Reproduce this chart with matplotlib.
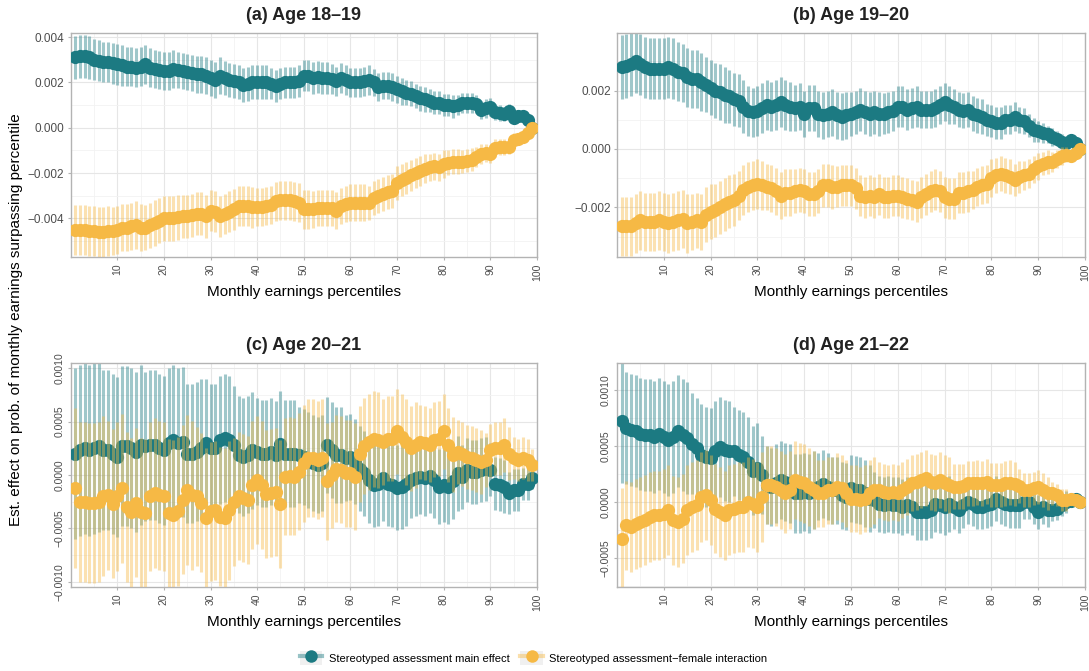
import numpy as np
import matplotlib.pyplot as plt
from matplotlib.lines import Line2D
from matplotlib.patches import Patch
from matplotlib.ticker import MultipleLocator, FuncFormatter

plt.rcParams["font.family"] = ["Liberation Sans", "DejaVu Sans"]

# ---------------------------
# DATA (values and CI half-widths in units of 1e-4)
# ---------------------------
percentiles = np.arange(1, 100)

a_main = [31, 31.5, 31.5, 31, 30, 29.5, 29, 29, 28.5, 28,
          27.5, 27, 27, 26.5, 27, 28, 26.5, 26, 25.5, 25,
          25, 26, 25.5, 25, 24.5, 24, 23.5, 23.5, 23, 22,
          21, 23, 22, 21, 20.5, 20, 19, 19.5, 20, 20,
          20, 20, 19.5, 18.5, 19.5, 20, 20, 20, 20.5, 23,
          23, 22, 22.5, 22, 22, 21.5, 20.5, 22, 21, 20,
          20, 20, 20.5, 21, 20, 18, 18.5, 18.5, 18, 17,
          16, 15.5, 15, 14, 13, 12.5, 12, 11, 11, 10,
          10, 9.5, 10, 11, 11, 11, 10.5, 8, 8.5, 9,
          7, 6.5, 6, 7.5, 4.5, 5, 5, 3.5, 0]
a_main_ci = [9.5, 9.5, 9.5, 9.5, 9, 9, 9, 9, 9, 9,
             9, 8.5, 8.5, 8.5, 8.5, 8.5, 8.5, 8.5, 8.5, 8.5,
             8.5, 8.5, 8, 8, 8, 8, 8, 8, 8, 8,
             8, 8, 7.5, 7.5, 7.5, 7.5, 7.5, 7.5, 7.5, 7.5,
             7.5, 7.5, 7, 7, 7, 7, 7, 7, 7, 7,
             7, 7, 7, 7, 7, 6.5, 6.5, 6.5, 6.5, 6.5,
             6.5, 6.5, 6.5, 6.5, 6, 6, 6, 6, 6, 6,
             6, 5.5, 5.5, 5.5, 5.5, 5.5, 5, 5, 5, 5,
             5, 5, 4.5, 4.5, 4.5, 4.5, 4, 4, 4, 4,
             3.5, 3.5, 3, 3, 2.5, 2.5, 2, 1.5, 0]
a_int = [-45, -45, -45, -45.5, -45.5, -46, -46, -45.5, -45.5, -45,
         -44, -44, -43.5, -43, -44, -44, -43, -42, -41, -40,
         -40, -40, -39.5, -39, -39, -38.5, -38, -38, -39, -36.5,
         -37, -39, -38, -37, -36, -34.5, -34.5, -34.5, -35, -35,
         -35, -34.5, -34, -32.5, -32, -32, -32, -32.5, -33, -36,
         -36, -36, -35.5, -35.5, -35.5, -35.5, -36.5, -34.5, -33.5, -33,
         -33, -33, -33, -33, -31, -30, -29, -28.5, -28, -24.5,
         -23, -22, -21, -20, -19, -18, -17.5, -17, -17.5, -16,
         -15.5, -15, -15, -15, -14.5, -14, -13, -11.5, -11, -11.5,
         -9, -8.5, -8.5, -8.5, -5.5, -5, -4, -2.5, 0]
a_int_ci = [11, 11, 11, 11, 11, 11, 11, 11, 10.5, 10.5,
            10.5, 10.5, 10.5, 10.5, 10.5, 10, 10, 10, 10, 10,
            10, 10, 10, 9.5, 9.5, 9.5, 9.5, 9.5, 9.5, 9,
            9, 9, 9, 9, 9, 9, 9, 9, 9, 8.5,
            8.5, 8.5, 8.5, 8.5, 8.5, 8.5, 8.5, 8.5, 8.5, 8.5,
            8.5, 8, 8, 8, 8, 8, 8, 8, 8, 8,
            8, 8, 8, 7.5, 7.5, 7.5, 7.5, 7.5, 7.5, 7.5,
            7, 7, 7, 6.5, 6.5, 6.5, 6, 6, 6, 6,
            5.5, 5.5, 5.5, 5, 5, 5, 4.5, 4.5, 4, 4,
            4, 3.5, 3.5, 3, 3, 2.5, 2, 1.5, 0]

b_main = [28, 28.5, 29, 30, 29, 28, 27.5, 27.5, 27.5, 27.5,
          28, 27.5, 26.5, 26, 24.5, 24, 24, 23, 22, 21,
          20, 19.5, 18.5, 18, 17, 16.5, 14.5, 13, 12.5, 13,
          14, 15, 14.5, 15, 16, 15, 14.5, 14, 14.5, 12,
          14, 14, 12, 11.5, 12, 12.5, 11.5, 11, 11.5, 12,
          12.5, 13.5, 12.5, 12, 12.5, 12, 12, 12.5, 13, 14.5,
          14.5, 13.5, 14, 14.5, 13.5, 13.5, 13.5, 14, 15, 16,
          15, 14.5, 13.5, 13, 13.5, 12, 11.5, 11, 10, 9.5,
          9, 9, 10, 10, 11, 10, 9.5, 8, 6.5, 6,
          5.5, 5, 4, 3.5, 2.5, 2, 3, 2, 0]
b_main_ci = [11, 11, 11, 11, 10.5, 10.5, 10.5, 10.5, 10.5, 10.5,
             10.5, 10.5, 10, 10, 10, 10, 10, 10, 9.5, 9.5,
             9.5, 9.5, 9.5, 9, 9, 9, 9, 8.5, 8.5, 8.5,
             8.5, 8.5, 8.5, 8.5, 8.5, 8.5, 8.5, 8, 8, 8,
             8, 8, 8, 8, 8, 8, 8, 8, 8, 7.5,
             7.5, 7.5, 7.5, 7.5, 7.5, 7.5, 7, 7, 7, 7,
             7, 7, 7, 7, 6.5, 6.5, 6.5, 6.5, 6.5, 6.5,
             6.5, 6, 6, 6, 6, 6, 6, 6, 5.5, 5.5,
             5.5, 5.5, 5, 5, 5, 4.5, 4.5, 4, 4, 3.5,
             3.5, 3, 3, 2.5, 2.5, 2, 2, 1.5, 0]
b_int = [-26.5, -26.5, -26.5, -25.5, -24.5, -25, -25, -25, -24.5, -25,
         -25.5, -25, -24.5, -24, -25.5, -25, -24.5, -25, -22.5, -21.5,
         -21, -20, -19, -18, -17.5, -16, -14, -13, -12.5, -12,
         -12.5, -13, -13.5, -14.5, -16, -15, -15, -14.5, -14, -14.5,
         -15.5, -15.5, -14.5, -12.5, -12.5, -13, -13, -12.5, -12.5, -12.5,
         -13.5, -16, -16.5, -16, -16.5, -15.5, -16.5, -16.5, -16, -16,
         -16.5, -17, -17.5, -18, -16.5, -15.5, -14.5, -14, -14.5, -16.5,
         -17, -17, -15, -15, -14.5, -14, -13, -12.5, -12, -10,
         -9, -8.5, -9, -9.5, -10.5, -9.5, -9, -8.5, -7, -6,
         -5, -4.5, -4.5, -3.5, -2.5, -2, -2.5, -1.5, 0]
b_int_ci = [10, 10, 10, 10, 10, 10, 10, 10, 10, 10,
            10, 10, 10, 10, 10, 9.5, 9.5, 9.5, 9.5, 9.5,
            9, 9, 9, 9, 9, 8.5, 8.5, 8.5, 8.5, 8.5,
            8.5, 8, 8, 8, 8, 8, 8, 7.5, 7.5, 7.5,
            7.5, 7.5, 7.5, 7.5, 7.5, 7.5, 7, 7, 7, 7,
            7, 7, 7, 7, 7, 7, 7, 7, 7, 7,
            7, 7, 7, 7, 7, 7, 7, 7, 7, 7,
            7, 7, 7, 7, 7, 6.5, 6.5, 6.5, 6.5, 6.5,
            6, 6, 6, 6, 5.5, 5.5, 5, 5, 4.5, 4.5,
            4, 4, 3.5, 3, 3, 2.5, 2, 1.5, 0]

c_main = [2.0, 2.3, 2.5, 2.3, 2.5, 2.7, 2.3, 2.3, 2.0, 1.7,
          2.7, 2.7, 2.5, 2.2, 2.8, 2.7, 2.8, 2.8, 2.5, 2.3,
          3.0, 3.3, 3.0, 3.1, 2.0, 2.0, 2.2, 2.5, 3.0, 2.5,
          2.5, 3.3, 3.5, 3.3, 2.8, 1.9, 1.7, 1.9, 2.3, 2.2,
          2.0, 2.0, 2.2, 1.9, 2.9, 2.0, 2.0, 2.0, 1.9, 1.7,
          1.4, 1.1, 0.9, 1.1, 2.8, 2.3, 1.9, 1.9, 1.6, 1.7,
          1.25, 0.6, 0.15, -0.5, -0.9, -0.8, -0.3, -0.8, -0.9, -1.2,
          -1.1, -0.8, -0.5, -0.3, -0.15, -0.3, -0.1, -0.5, -1.1, -0.9,
          -1.1, -0.6, 0.15, -0.15, 0.5, 0.3, 0.3, 0.5, 0.6, 0.5,
          -0.8, -0.9, -1.1, -1.7, -1.4, -1.4, -0.8, -0.8, -0.3]
c_main_ci = [8, 8, 8, 8, 8, 8, 7.5, 7.5, 7.5, 7.5,
             7.5, 7.5, 7.5, 7.5, 7.5, 7, 7, 7, 7, 7,
             7, 7, 7, 7, 6.5, 6.5, 6.5, 6.5, 6, 6,
             6, 6, 6, 6, 5.5, 5.5, 5.5, 5.5, 5.5, 5,
             5, 5, 5, 5, 5, 5, 5, 5, 4.5, 4.5,
             4.5, 4.5, 4.5, 4.5, 4.5, 4.5, 4.5, 4.5, 4, 4,
             4, 4, 4, 4, 4, 4, 4, 4, 4, 4,
             4, 4, 3.5, 3.5, 3.5, 3.5, 3.5, 3.5, 3.5, 3.5,
             3.5, 3.5, 3.5, 3, 3, 3, 3, 3, 3, 2.5,
             2.5, 2.5, 2.5, 2, 2, 2, 1.5, 1.5, 1]
c_int = [-1.25, -2.5, -2.5, -2.6, -2.6, -2.5, -2.0, -1.9, -2.7, -2.0,
         -1.25, -3.0, -3.5, -2.6, -3.5, -3.6, -2.0, -1.7, -1.9, -2.0,
         -3.6, -3.75, -3.4, -2.3, -1.4, -1.9, -2.0, -2.6, -4.0, -3.4,
         -3.3, -3.9, -4.0, -3.3, -2.5, -2.0, -2.2, -2.3, -0.9, -0.5,
         -0.9, -1.8, -1.7, -1.6, -2.7, -0.15, -0.1, -0.15, 0.3, 1.1,
         1.6, 1.6, 1.4, 1.6, -0.6, 0.0, 0.6, 0.5, 0.15, 0.15,
         -0.15, 2.0, 2.7, 3.1, 3.4, 3.3, 3.1, 3.4, 3.4, 4.1,
         3.6, 3.1, 2.5, 2.8, 3.1, 3.0, 2.8, 3.3, 3.4, 4.1,
         2.8, 1.9, 2.2, 2.0, 1.7, 1.6, 1.4, 1.25, 1.4, 2.3,
         2.5, 2.5, 2.8, 2.0, 1.6, 1.4, 1.6, 1.4, 0.9]
c_int_ci = [7.5, 7.5, 7.5, 7.5, 7.5, 7.5, 7.5, 7, 7, 7,
            7, 7, 7, 7, 7, 7, 7, 7, 7, 7,
            7, 7, 7, 7, 7, 7, 6.5, 6.5, 6.5, 6.5,
            6.5, 6.5, 6.5, 6.5, 6, 6, 6, 6, 6, 6,
            6, 6, 6, 6, 6, 5.5, 5.5, 5.5, 5.5, 5.5,
            5.5, 5.5, 5.5, 5.5, 5.5, 5, 5, 5, 5, 5,
            5, 4.5, 4.5, 4.5, 4.5, 4.5, 4, 4, 4, 4,
            4, 4, 4, 4, 3.5, 3.5, 3.5, 3.5, 3.5, 3.5,
            3.5, 3.5, 3, 3, 3, 3, 3, 3, 2.5, 2.5,
            2.5, 2.5, 2.5, 2.5, 2, 2, 2, 2, 1.5]

d_main = [7.2, 6.6, 6.4, 6.3, 6.1, 6.0, 6.0, 5.8, 6.1, 5.8,
          5.5, 5.8, 6.3, 6.0, 5.7, 5.2, 4.8, 4.2, 4.0, 3.9,
          4.5, 4.9, 4.6, 4.5, 4.5, 4.2, 4.0, 3.6, 2.8, 3.0,
          2.4, 1.5, 1.35, 1.65, 1.95, 1.8, 1.65, 0.75, 0.75, 0.9,
          0.75, 1.05, 1.35, 1.6, 1.35, 1.05, 1.05, 0.6, 0.45, 1.2,
          1.1, 1.05, 0.75, 0.3, 0.15, -0.15, -0.3, -0.15, -0.3, -0.3,
          -0.45, -0.3, -0.45, -0.9, -0.9, -0.9, -0.75, -0.15, -0.3, -0.45,
          -0.15, -0.45, -0.75, -0.3, 0.0, -0.15, -0.45, -0.45, -0.3, -0.15,
          0.3, 0.0, -0.15, -0.3, -0.3, -0.3, 0.0, 0.0, -0.45, -0.9,
          -0.45, -0.75, -0.75, -0.6, -0.3, 0.0, 0.1, 0.3, 0.0]
d_main_ci = [5.5, 5, 5, 5, 5, 5, 5, 5, 5, 5,
             5, 5, 5, 5, 5, 4.5, 4.5, 4.5, 4.5, 4.5,
             4.5, 4.5, 4.5, 4.5, 4, 4, 4, 4, 4, 4,
             3.5, 3.5, 3.5, 3.5, 3.5, 3.5, 3.5, 3.5, 3.5, 3.5,
             3.5, 3.5, 3, 3, 3, 3, 3, 3, 3, 3,
             3, 3, 3, 3, 2.5, 2.5, 2.5, 2.5, 2.5, 2.5,
             2.5, 2.5, 2.5, 2.5, 2.5, 2.5, 2.5, 2.5, 2.5, 2.5,
             2.5, 2, 2, 2, 2, 2, 2, 2, 2, 2,
             2, 2, 2, 2, 2, 2, 1.5, 1.5, 1.5, 1.5,
             1.5, 1.5, 1, 1, 1, 1, 0.5, 0.5, 0]
d_int = [-3.3, -2.1, -2.25, -1.95, -1.8, -1.6, -1.35, -1.2, -1.2, -1.05,
         -0.75, -1.65, -1.8, -1.5, -0.75, -0.45, -0.3, 0.45, 0.6, 0.15,
         -0.6, -0.9, -1.2, -0.75, -0.6, -0.45, -0.45, 0.0, -0.15, -0.45,
         0.45, 1.5, 1.5, 1.35, 1.05, 0.75, 1.05, 1.95, 1.8, 1.65,
         1.35, 1.05, 0.75, 0.75, 1.05, 1.05, 1.35, 1.2, 0.75, 0.3,
         0.3, 0.15, 0.3, 0.75, 1.05, 1.05, 0.9, 0.75, 0.9, 0.75,
         1.05, 1.35, 1.65, 1.8, 1.95, 2.1, 1.8, 1.65, 1.95, 1.65,
         1.5, 1.35, 1.35, 1.4, 1.65, 1.65, 1.7, 1.65, 1.8, 1.5,
         1.5, 1.5, 1.65, 1.7, 1.6, 1.4, 1.05, 1.05, 1.2, 1.35,
         1.05, 0.75, 0.75, 0.6, 0.15, 0.15, 0.3, 0.15, 0.0]
d_int_ci = [4.5, 4, 4, 4, 4, 4, 4, 4, 4, 4,
            4, 4, 4, 4, 4, 4, 4, 4, 4, 4,
            4, 4, 4, 4, 4, 4, 4, 4, 4, 4,
            4, 3.5, 3.5, 3.5, 3.5, 3.5, 3.5, 3.5, 3.5, 3.5,
            3.5, 3.5, 3, 3, 3, 3, 3, 3, 3, 3,
            3, 3, 3, 3, 3, 2.5, 2.5, 2.5, 2.5, 2.5,
            2.5, 2.5, 2.5, 2.5, 2.5, 2.5, 2.5, 2.5, 2.5, 2.5,
            2.5, 2, 2, 2, 2, 2, 2, 2, 2, 2,
            2, 2, 2, 2, 2, 1.5, 1.5, 1.5, 1.5, 1.5,
            1.5, 1.5, 1, 1, 1, 1, 0.5, 0.5, 0]

titles = ["(a) Age 18\u201319", "(b) Age 19\u201320", "(c) Age 20\u201321", "(d) Age 21\u201322"]
series_labels = ["Stereotyped assessment main effect",
                 "Stereotyped assessment\u2212female interaction"]

TEAL = "#1c7a82"
ORANGE = "#f6b945"


def fmt(decimals):
    def f(v, pos):
        s = f"{v:.{decimals}f}"
        return s.replace("-", "\u2212")
    return f


def draw_panel(ax, main, main_ci, inter, inter_ci, title, ylim, step, decimals, rotate_y):
    scale = 1e-4
    main = np.array(main) * scale
    main_ci = np.array(main_ci) * scale
    inter = np.array(inter) * scale
    inter_ci = np.array(inter_ci) * scale

    ax.set_axisbelow(True)
    ax.vlines(percentiles, main - main_ci, main + main_ci, color=TEAL,
              alpha=0.42, lw=2.2, zorder=2)
    ax.plot(percentiles, main, "o", color=TEAL, ms=9.5, mew=0, zorder=3)
    ax.vlines(percentiles, inter - inter_ci, inter + inter_ci, color=ORANGE,
              alpha=0.42, lw=2.2, zorder=4)
    ax.plot(percentiles, inter, "o", color=ORANGE, ms=9.5, mew=0, zorder=5)

    ax.set_xlim(0, 100)
    ax.set_ylim(*ylim)
    ax.xaxis.set_major_locator(MultipleLocator(10))
    ax.xaxis.set_minor_locator(MultipleLocator(5))
    ax.set_xticks(np.arange(10, 101, 10))
    ax.yaxis.set_major_locator(MultipleLocator(step))
    ax.yaxis.set_minor_locator(MultipleLocator(step / 2))
    ax.yaxis.set_major_formatter(FuncFormatter(fmt(decimals)))

    ax.grid(True, which="major", color="#e6e6e6", lw=0.8)
    ax.grid(True, which="minor", color="#f2f2f2", lw=0.6)
    for sp in ax.spines.values():
        sp.set_color("#b3b3b3")
        sp.set_linewidth(1.0)
    ax.tick_params(which="major", length=2.5, color="#b3b3b3", labelcolor="#4d4d4d")
    ax.tick_params(which="minor", length=0)
    ax.tick_params(axis="x", labelsize=7.5, labelrotation=90, pad=2)
    ax.tick_params(axis="y", labelsize=8.5, pad=2)
    if rotate_y:
        for lbl in ax.get_yticklabels():
            lbl.set_rotation(90)
            lbl.set_va("center")
        ax.tick_params(axis="y", labelsize=7.5)

    ax.set_title(title, fontsize=13, fontweight="bold", color="#222222", pad=9)
    ax.set_xlabel("Monthly earnings percentiles", fontsize=11)
    ax.xaxis.set_label_coords(0.5, -0.125)


fig = plt.figure(figsize=(10.89, 6.71), dpi=100)
W, H = 1089, 671
pos = [(70.6, 33, 537, 257), (617, 33, 1085, 257),
       (70.6, 363, 537, 587), (617, 363, 1085, 587)]
axes = []
for x0, y0, x1, y1 in pos:
    axes.append(fig.add_axes([x0 / W, 1 - y1 / H, (x1 - x0) / W, (y1 - y0) / H]))

draw_panel(axes[0], a_main, a_main_ci, a_int, a_int_ci, titles[0],
           (-0.0057, 0.00418), 0.002, 3, False)
draw_panel(axes[1], b_main, b_main_ci, b_int, b_int_ci, titles[1],
           (-0.0037, 0.00397), 0.002, 3, False)
draw_panel(axes[2], c_main, c_main_ci, c_int, c_int_ci, titles[2],
           (-0.00105, 0.00105), 0.0005, 4, True)
draw_panel(axes[3], d_main, d_main_ci, d_int, d_int_ci, titles[3],
           (-0.00076, 0.00124), 0.0005, 4, True)

fig.text(16 / W, 1 - 320 / H,
         "Est. effect on prob. of monthly earnings surpassing percentile",
         rotation=90, ha="center", va="center", fontsize=11)

handles = []
for dark in [TEAL, ORANGE]:
    bg = Patch(facecolor="#f0f0f0", edgecolor="none")
    ln = Line2D([], [], color=dark, alpha=0.45, lw=3)
    pt = Line2D([], [], color=dark, marker="o", ms=9, mew=0, lw=0)
    handles.append((bg, ln, pt))
fig.legend(handles, series_labels, loc="center", bbox_to_anchor=(0.49, 1 - 658 / H),
           ncol=2, frameon=False, fontsize=8, handlelength=2.0, handleheight=1.6,
           columnspacing=1.0, handletextpad=0.6)

fig.savefig("out.png", dpi=100)
